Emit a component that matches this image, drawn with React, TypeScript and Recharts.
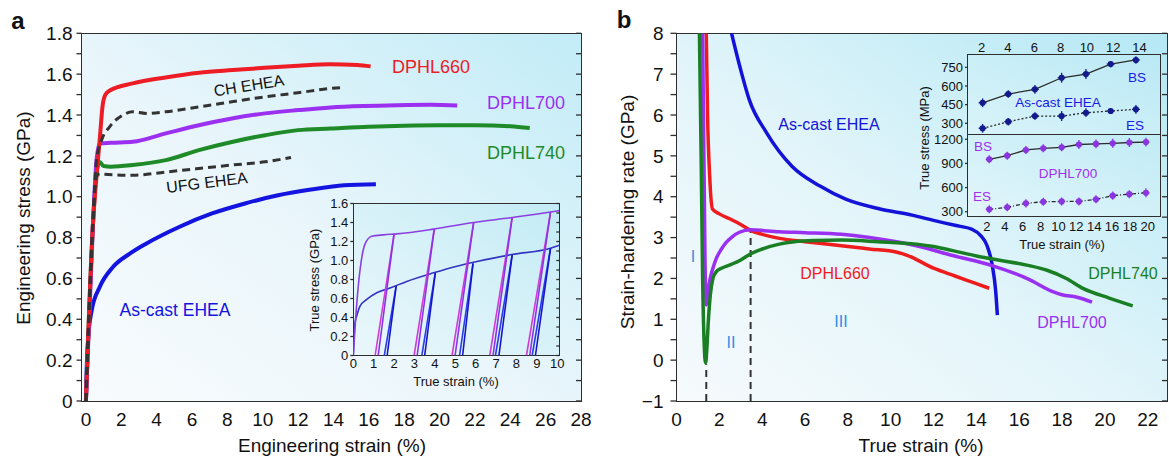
import React from 'react';
import { LineChart, Line, XAxis, YAxis, ScatterChart, Scatter, ErrorBar } from 'recharts';

const FONT = '"Liberation Sans", Arial, Helvetica, sans-serif';
const INK = '#111';
const AX = '#2e2e2e';

// ---------- panel a: engineering stress (GPa) vs engineering strain (%) ----------
const dphl660A = [
  { x: 0, y: 0 }, { x: 0.4, y: 0.87 }, { x: 0.6, y: 1.1 }, { x: 0.78, y: 1.28 }, { x: 0.95, y: 1.45 },
  { x: 1.1, y: 1.5 }, { x: 1.35, y: 1.52 }, { x: 2.65, y: 1.555 }, { x: 4.5, y: 1.584 }, { x: 6.4, y: 1.607 },
  { x: 8.3, y: 1.62 }, { x: 10.1, y: 1.631 }, { x: 12, y: 1.641 }, { x: 13.8, y: 1.648 }, { x: 15.35, y: 1.645 },
  { x: 16.1, y: 1.638 },
];
const chEheaA = [
  { x: 0, y: 0 }, { x: 0.4, y: 0.88 }, { x: 0.6, y: 1.18 }, { x: 0.9, y: 1.28 }, { x: 1.34, y: 1.342 },
  { x: 2.09, y: 1.4 }, { x: 2.65, y: 1.416 }, { x: 3.4, y: 1.408 }, { x: 4.52, y: 1.416 }, { x: 6.39, y: 1.44 },
  { x: 8.25, y: 1.465 }, { x: 10.13, y: 1.489 }, { x: 12, y: 1.509 }, { x: 13.84, y: 1.53 }, { x: 14.65, y: 1.535 },
];
const ufgEheaA = [
  { x: 0, y: 0 }, { x: 0.4, y: 0.88 }, { x: 0.6, y: 1.1 }, { x: 0.8, y: 1.113 }, { x: 1.0, y: 1.11 },
  { x: 2.65, y: 1.105 }, { x: 4.52, y: 1.121 }, { x: 6.39, y: 1.138 }, { x: 8.25, y: 1.155 }, { x: 10.13, y: 1.171 },
  { x: 11.6, y: 1.192 },
];
const dphl700A = [
  { x: 0, y: 0 }, { x: 0.4, y: 0.87 }, { x: 0.6, y: 1.18 }, { x: 0.78, y: 1.26 }, { x: 1.41, y: 1.264 },
  { x: 2.65, y: 1.269 }, { x: 4.52, y: 1.31 }, { x: 6.39, y: 1.35 }, { x: 8.25, y: 1.383 }, { x: 10.13, y: 1.408 },
  { x: 12, y: 1.424 }, { x: 13.84, y: 1.437 }, { x: 15.7, y: 1.444 }, { x: 17.6, y: 1.448 }, { x: 19.5, y: 1.45 },
  { x: 21, y: 1.447 },
];
const dphl740A = [
  { x: 0, y: 0 }, { x: 0.4, y: 0.87 }, { x: 0.6, y: 1.12 }, { x: 0.78, y: 1.17 }, { x: 1.0, y: 1.15 },
  { x: 1.41, y: 1.147 }, { x: 2.65, y: 1.155 }, { x: 4.52, y: 1.179 }, { x: 6.39, y: 1.228 }, { x: 8.25, y: 1.268 },
  { x: 10.13, y: 1.301 }, { x: 12, y: 1.326 }, { x: 13.84, y: 1.334 }, { x: 16, y: 1.343 }, { x: 18, y: 1.348 },
  { x: 20, y: 1.35 }, { x: 22, y: 1.35 }, { x: 24, y: 1.345 }, { x: 25.1, y: 1.336 },
];
const asCastA = [
  { x: 0, y: 0 }, { x: 0.04, y: 0.15 }, { x: 0.13, y: 0.31 }, { x: 0.32, y: 0.44 }, { x: 0.78, y: 0.558 },
  { x: 1.53, y: 0.656 }, { x: 2.46, y: 0.72 }, { x: 3.4, y: 0.77 }, { x: 5.27, y: 0.852 }, { x: 7.13, y: 0.918 },
  { x: 9, y: 0.967 }, { x: 10.87, y: 1.007 }, { x: 12.73, y: 1.035 }, { x: 14.6, y: 1.056 }, { x: 16.4, y: 1.061 },
];
const aXTicks = [0, 1, 2, 3, 4, 5, 6, 7, 8, 9, 10, 11, 12, 13, 14, 15, 16, 17, 18, 19, 20, 21, 22, 23, 24, 25, 26, 27, 28];
const aXLabels = [0, 2, 4, 6, 8, 10, 12, 14, 16, 18, 20, 22, 24, 26, 28];
const aYTicks = [0, 0.1, 0.2, 0.3, 0.4, 0.5, 0.6, 0.7, 0.8, 0.9, 1.0, 1.1, 1.2, 1.3, 1.4, 1.5, 1.6, 1.7, 1.8];
const aYLabels = [0, 0.2, 0.4, 0.6, 0.8, 1.0, 1.2, 1.4, 1.6, 1.8];

// ---------- panel a inset: loading-unloading true stress-strain ----------
const dphl700Env = [
  { x: 0, y: 0 }, { x: 0.16, y: 0.52 }, { x: 0.33, y: 0.9 }, { x: 0.57, y: 1.17 }, { x: 0.9, y: 1.255 },
  { x: 1.48, y: 1.27 }, { x: 2.13, y: 1.28 }, { x: 3.93, y: 1.33 }, { x: 5.9, y: 1.4 }, { x: 7.7, y: 1.45 },
  { x: 9.67, y: 1.51 }, { x: 10.1, y: 1.525 },
];
const asCastEnv = [
  { x: 0, y: 0 }, { x: 0.08, y: 0.34 }, { x: 0.16, y: 0.41 }, { x: 0.33, y: 0.52 }, { x: 0.66, y: 0.59 },
  { x: 1.15, y: 0.66 }, { x: 1.8, y: 0.71 }, { x: 2.62, y: 0.78 }, { x: 3.93, y: 0.87 }, { x: 5.08, y: 0.94 },
  { x: 6.07, y: 0.99 }, { x: 7.7, y: 1.06 }, { x: 9.67, y: 1.13 }, { x: 10.1, y: 1.16 },
];
const purpleLoops = [
  { peak: 2.0, top: 1.28, unload: 1.07, reload: 1.22 },
  { peak: 3.97, top: 1.33, unload: 2.98, reload: 3.13 },
  { peak: 5.9, top: 1.4, unload: 4.84, reload: 4.99 },
  { peak: 7.79, top: 1.455, unload: 6.69, reload: 6.85 },
  { peak: 9.67, top: 1.51, unload: 8.49, reload: 8.65 },
];
const blueLoops = [
  { peak: 2.1, top: 0.73, unload: 1.52, reload: 1.66 },
  { peak: 4.02, top: 0.87, unload: 3.36, reload: 3.5 },
  { peak: 5.87, top: 0.97, unload: 5.21, reload: 5.36 },
  { peak: 7.79, top: 1.06, unload: 6.97, reload: 7.14 },
  { peak: 9.67, top: 1.13, unload: 8.77, reload: 8.93 },
];
const iXTicks = [0, 0.5, 1, 1.5, 2, 2.5, 3, 3.5, 4, 4.5, 5, 5.5, 6, 6.5, 7, 7.5, 8, 8.5, 9, 9.5, 10];
const iXLabels = [0, 1, 2, 3, 4, 5, 6, 7, 8, 9, 10];
const iYTicks = [0, 0.1, 0.2, 0.3, 0.4, 0.5, 0.6, 0.7, 0.8, 0.9, 1.0, 1.1, 1.2, 1.3, 1.4, 1.5, 1.6];
const iYLabels = [0, 0.2, 0.4, 0.6, 0.8, 1.0, 1.2, 1.4, 1.6];

// ---------- panel b: strain-hardening rate (GPa) vs true strain (%) ----------
const asCastB = [
  { x: 2.57, y: 8 }, { x: 3.0, y: 7.1 }, { x: 3.4, y: 6.37 }, { x: 4.2, y: 5.57 }, { x: 5.4, y: 4.74 },
  { x: 6.7, y: 4.26 }, { x: 7.9, y: 3.94 }, { x: 9.5, y: 3.7 }, { x: 11, y: 3.55 }, { x: 12, y: 3.42 },
  { x: 13, y: 3.3 }, { x: 13.8, y: 3.2 }, { x: 14.2, y: 3.05 }, { x: 14.5, y: 2.8 }, { x: 14.75, y: 2.3 },
  { x: 14.9, y: 1.7 }, { x: 14.98, y: 1.1 },
];
const dphl660B = [
  { x: 1.39, y: 8 }, { x: 1.45, y: 6 }, { x: 1.55, y: 4.5 }, { x: 1.68, y: 3.7 }, { x: 2.0, y: 3.58 },
  { x: 2.48, y: 3.46 }, { x: 3.0, y: 3.32 }, { x: 3.41, y: 3.19 }, { x: 4.0, y: 3.08 }, { x: 4.81, y: 2.98 },
  { x: 6, y: 2.9 }, { x: 7.7, y: 2.8 }, { x: 9, y: 2.72 }, { x: 10.3, y: 2.64 }, { x: 10.8, y: 2.56 },
  { x: 12, y: 2.25 }, { x: 13, y: 2.06 }, { x: 13.8, y: 1.91 }, { x: 14.6, y: 1.76 },
];
const dphl740B = [
  { x: 1.07, y: 8 }, { x: 1.15, y: 5 }, { x: 1.22, y: 2 }, { x: 1.3, y: 0.3 }, { x: 1.36, y: -0.07 },
  { x: 1.42, y: 0.3 }, { x: 1.48, y: 0.9 }, { x: 1.58, y: 1.6 }, { x: 1.7, y: 2.0 }, { x: 1.85, y: 2.16 },
  { x: 2.1, y: 2.25 }, { x: 2.5, y: 2.33 }, { x: 3.0, y: 2.45 }, { x: 3.45, y: 2.6 }, { x: 4.0, y: 2.72 },
  { x: 4.8, y: 2.84 }, { x: 5.5, y: 2.9 }, { x: 6.5, y: 2.93 }, { x: 7.7, y: 2.94 }, { x: 9.4, y: 2.9 },
  { x: 11.2, y: 2.84 }, { x: 12, y: 2.78 }, { x: 12.9, y: 2.68 }, { x: 14, y: 2.55 }, { x: 14.7, y: 2.48 },
  { x: 16.4, y: 2.32 }, { x: 17.3, y: 2.2 }, { x: 18.2, y: 2.0 }, { x: 19, y: 1.75 }, { x: 20.2, y: 1.52 },
  { x: 21.3, y: 1.33 },
];
const dphl700B = [
  { x: 1.22, y: 8 }, { x: 1.28, y: 5 }, { x: 1.33, y: 2.5 }, { x: 1.39, y: 1.35 }, { x: 1.45, y: 1.6 },
  { x: 1.54, y: 1.92 }, { x: 1.7, y: 2.25 }, { x: 1.85, y: 2.48 }, { x: 2.1, y: 2.72 }, { x: 2.32, y: 2.88 },
  { x: 2.6, y: 3.02 }, { x: 2.94, y: 3.13 }, { x: 3.46, y: 3.19 }, { x: 4.8, y: 3.14 }, { x: 6, y: 3.12 },
  { x: 7.7, y: 3.08 }, { x: 9.4, y: 2.97 }, { x: 11.2, y: 2.8 }, { x: 12.9, y: 2.56 }, { x: 14.7, y: 2.32 },
  { x: 16.4, y: 1.99 }, { x: 17.6, y: 1.67 }, { x: 18, y: 1.6 }, { x: 18.7, y: 1.54 }, { x: 19.4, y: 1.42 },
];
const stageLine1 = [{ x: 1.39, y: -1 }, { x: 1.39, y: -0.1 }];
const stageLine2 = [{ x: 3.46, y: -1 }, { x: 3.46, y: 3.19 }];
const bXTicks = [0, 1, 2, 3, 4, 5, 6, 7, 8, 9, 10, 11, 12, 13, 14, 15, 16, 17, 18, 19, 20, 21, 22];
const bXLabels = [0, 2, 4, 6, 8, 10, 12, 14, 16, 18, 20, 22];
const bYTicks = [-1, -0.5, 0, 0.5, 1, 1.5, 2, 2.5, 3, 3.5, 4, 4.5, 5, 5.5, 6, 6.5, 7, 7.5, 8];
const bYLabels = [-1, 0, 1, 2, 3, 4, 5, 6, 7, 8];

// ---------- panel b inset: back stress (BS) and effective stress (ES), MPa ----------
const asCastBS = [
  { x: 2.07, y: 465, ex: 0.3, ey: 35 }, { x: 4.02, y: 535, ex: 0.3, ey: 30 }, { x: 6.05, y: 573, ex: 0.3, ey: 35 },
  { x: 8.08, y: 666, ex: 0.3, ey: 40 }, { x: 9.93, y: 696, ex: 0.3, ey: 40 }, { x: 11.81, y: 776, ex: 0.3, ey: 25 },
  { x: 13.73, y: 809, ex: 0.3, ey: 30 },
];
const asCastES = [
  { x: 2.07, y: 260, ex: 0.3, ey: 35 }, { x: 4.02, y: 313, ex: 0.3, ey: 30 }, { x: 6.05, y: 358, ex: 0.3, ey: 30 },
  { x: 8.08, y: 358, ex: 0.3, ey: 40 }, { x: 9.93, y: 385, ex: 0.3, ey: 35 }, { x: 11.81, y: 399, ex: 0.3, ey: 25 },
  { x: 13.73, y: 412, ex: 0.3, ey: 35 },
];
const dphl700BS = [
  { x: 2.26, y: 951, ex: 0.4, ey: 50 }, { x: 4.27, y: 996, ex: 0.4, ey: 50 }, { x: 6.36, y: 1067, ex: 0.4, ey: 50 },
  { x: 8.3, y: 1088, ex: 0.4, ey: 50 }, { x: 10.36, y: 1100, ex: 0.4, ey: 50 }, { x: 12.29, y: 1135, ex: 0.4, ey: 55 },
  { x: 14.2, y: 1142, ex: 0.4, ey: 55 }, { x: 16.07, y: 1150, ex: 0.4, ey: 55 }, { x: 17.93, y: 1160, ex: 0.4, ey: 55 },
  { x: 19.79, y: 1165, ex: 0.4, ey: 55 },
];
const dphl700ES = [
  { x: 2.26, y: 330, ex: 0.4, ey: 50 }, { x: 4.27, y: 355, ex: 0.4, ey: 50 }, { x: 6.36, y: 404, ex: 0.4, ey: 50 },
  { x: 8.3, y: 424, ex: 0.4, ey: 50 }, { x: 10.36, y: 428, ex: 0.4, ey: 50 }, { x: 12.29, y: 428, ex: 0.4, ey: 50 },
  { x: 14.2, y: 454, ex: 0.4, ey: 50 }, { x: 16.07, y: 500, ex: 0.4, ey: 50 }, { x: 17.93, y: 518, ex: 0.4, ey: 50 },
  { x: 19.79, y: 536, ex: 0.4, ey: 55 },
];
const uXLabels = [2, 4, 6, 8, 10, 12, 14];
const uYLabels = [300, 450, 600, 750];
const lXLabels = [2, 4, 6, 8, 10, 12, 14, 16, 18, 20];
const lYLabels = [300, 600, 900, 1200];

const onlyLabels = (labels: number[], f: (v: number) => string) => (v: number) =>
  labels.some((l) => Math.abs(l - v) < 1e-6) ? f(v) : '';
const noLabel = () => '';
const tickStroke = { stroke: AX, strokeWidth: 1.3 };

function Frame({ l, t, r, b, bg }: { l: number; t: number; r: number; b: number; bg: string }) {
  return (
    <div
      style={{
        position: 'absolute', left: l - 0.75, top: t - 0.75, width: r - l + 1.5, height: b - t + 1.5,
        boxSizing: 'border-box', border: `1.5px solid ${AX}`, background: bg,
      }}
    />
  );
}

function Txt({ x, y, children, size = 18, color = INK, rot = 0, weight = 400 }: any) {
  return (
    <div
      style={{
        position: 'absolute', left: x, top: y, transform: `translate(-50%, -50%) rotate(${rot}deg)`,
        fontSize: size, color, fontWeight: weight, whiteSpace: 'nowrap', lineHeight: 1, fontFamily: FONT,
      }}
    >
      {children}
    </div>
  );
}

function loopSegments(loops: typeof purpleLoops) {
  return loops.map((o) => ({
    unload: [{ x: o.peak, y: o.top }, { x: o.unload, y: 0 }],
    reload: [{ x: o.reload, y: 0 }, { x: o.peak, y: o.top }],
  }));
}

const dot = (color: string) => (p: any) => <circle cx={p.cx} cy={p.cy} r={3.1} fill={color} />;

export default function App() {
  const aDom: [number, number] = [-0.25, 28];
  const bDom: [number, number] = [0, 22.9];
  const iDom: [number, number] = [0, 10.1];
  const uDom: [number, number] = [0.96, 15.56];
  const lDom: [number, number] = [-0.12, 21.36];
  const pLoops = loopSegments(purpleLoops);
  const bLoops = loopSegments(blueLoops);

  return (
    <div style={{ position: 'absolute', left: 0, top: 0, width: 1169, height: 460, background: '#fff', overflow: 'hidden', fontFamily: FONT }}>
      {/* ---------- panel a ---------- */}
      <Frame l={81.5} t={33.3} r={581} b={401} bg="linear-gradient(to top right, #f8fbfd 0%, #eaf6fb 45%, #c2ecf7 100%)" />
      <div style={{ position: 'absolute', left: 0, top: 0 }}>
        <LineChart width={600} height={460} margin={{ top: 33.3, right: 19, left: 21.5, bottom: 29 }}>
          <XAxis xAxisId="b" type="number" dataKey="x" domain={aDom} allowDataOverflow ticks={aXLabels} interval={0}
            height={30} tickLine={false} axisLine={false} tickSize={6} tickMargin={6} tick={{ fill: INK, fontSize: 19 }} />
          <XAxis xAxisId="bm" type="number" domain={aDom} allowDataOverflow ticks={aXTicks} interval={0} mirror
            axisLine={false} tickSize={5} tickLine={tickStroke} tickFormatter={noLabel} />
          <XAxis xAxisId="t" orientation="top" type="number" domain={aDom} allowDataOverflow ticks={aXTicks} interval={0} mirror
            axisLine={false} tickSize={5} tickLine={tickStroke} tickFormatter={noLabel} />
          <YAxis yAxisId="l" type="number" domain={[0, 1.8]} allowDataOverflow ticks={aYTicks} interval={0} width={60}
            axisLine={false} tickSize={5} tickMargin={4} tickLine={tickStroke} tick={{ fill: INK, fontSize: 19 }}
            tickFormatter={onlyLabels(aYLabels, (v) => (v === 0 ? '0' : v.toFixed(1)))} />
          <YAxis yAxisId="r" orientation="right" type="number" domain={[0, 1.8]} allowDataOverflow ticks={aYTicks} interval={0} mirror
            axisLine={false} tickSize={5} tickLine={tickStroke} tickFormatter={noLabel} />
          <Line xAxisId="b" yAxisId="l" data={asCastA} dataKey="y" type="monotone" stroke="#1414e0" strokeWidth={4} dot={false} isAnimationActive={false} />
          <Line xAxisId="b" yAxisId="l" data={dphl740A} dataKey="y" type="monotone" stroke="#1e8a28" strokeWidth={4} dot={false} isAnimationActive={false} />
          <Line xAxisId="b" yAxisId="l" data={dphl700A} dataKey="y" type="monotone" stroke="#9b30f0" strokeWidth={4} dot={false} isAnimationActive={false} />
          <Line xAxisId="b" yAxisId="l" data={dphl660A} dataKey="y" type="monotone" stroke="#ee1c25" strokeWidth={4} dot={false} isAnimationActive={false} />
          <Line xAxisId="b" yAxisId="l" data={ufgEheaA} dataKey="y" type="monotone" stroke="#333" strokeWidth={3} strokeDasharray="8 5" dot={false} isAnimationActive={false} />
          <Line xAxisId="b" yAxisId="l" data={chEheaA} dataKey="y" type="monotone" stroke="#333" strokeWidth={3} strokeDasharray="8 5" dot={false} isAnimationActive={false} />
        </LineChart>
      </div>

      {/* panel a inset */}
      <Frame l={353.3} t={203.5} r={559.3} b={355.5} bg="linear-gradient(to top right, #eaf7fb 0%, #d6f1f8 55%, #c2ebf5 100%)" />
      <div style={{ position: 'absolute', left: 290, top: 190 }}>
        <LineChart width={280} height={200} margin={{ top: 13.5, right: 10.7, left: 33.3, bottom: 14.5 }}>
          <XAxis xAxisId="b" type="number" dataKey="x" domain={iDom} allowDataOverflow ticks={iXLabels} interval={0}
            height={20} tickLine={false} axisLine={false} tickSize={3} tickMargin={0} tick={{ fill: INK, fontSize: 13 }} />
          <XAxis xAxisId="bm" type="number" domain={iDom} allowDataOverflow ticks={iXTicks} interval={0} mirror
            axisLine={false} tickSize={3} tickLine={tickStroke} tickFormatter={noLabel} />
          <XAxis xAxisId="t" orientation="top" type="number" domain={iDom} allowDataOverflow ticks={iXTicks} interval={0} mirror
            axisLine={false} tickSize={3} tickLine={tickStroke} tickFormatter={noLabel} />
          <YAxis yAxisId="l" type="number" domain={[0, 1.6]} allowDataOverflow ticks={iYLabels} interval={0} width={30}
            axisLine={false} tickSize={3} tickMargin={2} tickLine={tickStroke} tick={{ fill: INK, fontSize: 13 }}
            tickFormatter={(v: number) => (v === 0 ? '0' : v.toFixed(1))} />
          <YAxis yAxisId="r" orientation="right" type="number" domain={[0, 1.6]} allowDataOverflow ticks={iYTicks} interval={0} mirror
            axisLine={false} tickSize={3} tickLine={tickStroke} tickFormatter={noLabel} />
          <Line xAxisId="b" yAxisId="l" data={asCastEnv} dataKey="y" type="monotone" stroke="#3434c4" strokeWidth={1.6} dot={false} isAnimationActive={false} />
          {bLoops.map((s, i) => (
            <Line key={`bu${i}`} xAxisId="b" yAxisId="l" data={s.unload} dataKey="y" type="linear" stroke="#2a3ee8" strokeWidth={1.6} dot={false} isAnimationActive={false} />
          ))}
          {bLoops.map((s, i) => (
            <Line key={`br${i}`} xAxisId="b" yAxisId="l" data={s.reload} dataKey="y" type="linear" stroke="#1616c8" strokeWidth={1.6} dot={false} isAnimationActive={false} />
          ))}
          <Line xAxisId="b" yAxisId="l" data={dphl700Env} dataKey="y" type="monotone" stroke="#8a40e0" strokeWidth={1.6} dot={false} isAnimationActive={false} />
          {pLoops.map((s, i) => (
            <Line key={`pu${i}`} xAxisId="b" yAxisId="l" data={s.unload} dataKey="y" type="linear" stroke="#d23cd2" strokeWidth={1.6} dot={false} isAnimationActive={false} />
          ))}
          {pLoops.map((s, i) => (
            <Line key={`pr${i}`} xAxisId="b" yAxisId="l" data={s.reload} dataKey="y" type="linear" stroke="#8a34e4" strokeWidth={1.6} dot={false} isAnimationActive={false} />
          ))}
        </LineChart>
      </div>

      {/* ---------- panel b ---------- */}
      <Frame l={676.5} t={33.3} r={1167} b={401} bg="linear-gradient(to top right, #f6fafc 0%, #e3f5fa 45%, #b4e8f5 100%)" />
      <div style={{ position: 'absolute', left: 600, top: 0 }}>
        <LineChart width={569} height={460} margin={{ top: 33.3, right: 2, left: 26.5, bottom: 29 }}>
          <XAxis xAxisId="b" type="number" dataKey="x" domain={bDom} allowDataOverflow ticks={bXLabels} interval={0}
            height={30} tickLine={false} axisLine={false} tickSize={6} tickMargin={6} tick={{ fill: INK, fontSize: 19 }} />
          <XAxis xAxisId="bm" type="number" domain={bDom} allowDataOverflow ticks={bXTicks} interval={0} mirror
            axisLine={false} tickSize={5} tickLine={tickStroke} tickFormatter={noLabel} />
          <XAxis xAxisId="t" orientation="top" type="number" domain={bDom} allowDataOverflow ticks={bXTicks} interval={0} mirror
            axisLine={false} tickSize={5} tickLine={tickStroke} tickFormatter={noLabel} />
          <YAxis yAxisId="l" type="number" domain={[-1, 8]} allowDataOverflow ticks={bYTicks} interval={0} width={50}
            axisLine={false} tickSize={6} tickMargin={7} tickLine={tickStroke} tick={{ fill: INK, fontSize: 19 }}
            tickFormatter={onlyLabels(bYLabels, (v) => (v < 0 ? `\u2212${Math.abs(v)}` : String(v)))} />
          <YAxis yAxisId="r" orientation="right" type="number" domain={[-1, 8]} allowDataOverflow ticks={bYTicks} interval={0} mirror
            axisLine={false} tickSize={5} tickLine={tickStroke} tickFormatter={noLabel} />
          <Line xAxisId="b" yAxisId="l" data={stageLine1} dataKey="y" type="linear" stroke="#333" strokeWidth={2} strokeDasharray="7 5" dot={false} isAnimationActive={false} />
          <Line xAxisId="b" yAxisId="l" data={stageLine2} dataKey="y" type="linear" stroke="#333" strokeWidth={2} strokeDasharray="7 5" dot={false} isAnimationActive={false} />
          <Line xAxisId="b" yAxisId="l" data={asCastB} dataKey="y" type="monotone" stroke="#1212d8" strokeWidth={3.5} dot={false} isAnimationActive={false} />
          <Line xAxisId="b" yAxisId="l" data={dphl660B} dataKey="y" type="monotone" stroke="#ee1c1c" strokeWidth={3.5} dot={false} isAnimationActive={false} />
          <Line xAxisId="b" yAxisId="l" data={dphl700B} dataKey="y" type="monotone" stroke="#9a30f0" strokeWidth={3.5} dot={false} isAnimationActive={false} />
          <Line xAxisId="b" yAxisId="l" data={dphl740B} dataKey="y" type="monotone" stroke="#1a7f24" strokeWidth={3.5} dot={false} isAnimationActive={false} />
        </LineChart>
      </div>

      {/* panel b inset backgrounds */}
      <Frame l={968} t={55} r={1160} b={135} bg="linear-gradient(to top right, #d9f3f9 0%, #c9eef7 55%, #b9e8f4 100%)" />
      <Frame l={968} t={135} r={1160} b={216} bg="linear-gradient(to top right, #e2f5fa 0%, #d0f0f8 55%, #c0ebf5 100%)" />

      {/* panel b inset, upper: as-cast EHEA */}
      <div style={{ position: 'absolute', left: 900, top: 30 }}>
        <ScatterChart width={269} height={106} margin={{ top: 0, right: 9, left: 28, bottom: 1 }}>
          <XAxis xAxisId="t" orientation="top" type="number" dataKey="x" domain={uDom} allowDataOverflow ticks={uXLabels} interval={0}
            height={25} tickLine={false} axisLine={false} tickSize={3} tickMargin={0} tick={{ fill: INK, fontSize: 13 }} />
          <XAxis xAxisId="tm" orientation="top" type="number" domain={uDom} allowDataOverflow ticks={uXLabels} interval={0} mirror
            axisLine={false} tickSize={3} tickLine={tickStroke} tickFormatter={noLabel} />
          <YAxis yAxisId="l" type="number" dataKey="y" domain={[206, 849]} allowDataOverflow ticks={uYLabels} interval={0} width={40}
            axisLine={false} tickSize={3} tickMargin={2} tickLine={tickStroke} tick={{ fill: INK, fontSize: 13 }} />
          <Scatter xAxisId="t" yAxisId="l" data={asCastBS} fill="#131b8c" shape={dot('#131b8c')} line={{ stroke: '#2a2a2a', strokeWidth: 1.3 }} isAnimationActive={false}>
            <ErrorBar dataKey="ey" direction="y" width={0} stroke="#131b8c" strokeWidth={1.3} />
            <ErrorBar dataKey="ex" direction="x" width={0} stroke="#131b8c" strokeWidth={1.3} />
          </Scatter>
          <Scatter xAxisId="t" yAxisId="l" data={asCastES} fill="#131b8c" shape={dot('#131b8c')} line={{ stroke: '#2a2a2a', strokeWidth: 1.3, strokeDasharray: '2 2' }} isAnimationActive={false}>
            <ErrorBar dataKey="ey" direction="y" width={0} stroke="#131b8c" strokeWidth={1.3} />
            <ErrorBar dataKey="ex" direction="x" width={0} stroke="#131b8c" strokeWidth={1.3} />
          </Scatter>
        </ScatterChart>
      </div>

      {/* panel b inset, lower: DPHL700 */}
      <div style={{ position: 'absolute', left: 900, top: 125 }}>
        <ScatterChart width={269} height={120} margin={{ top: 10, right: 9, left: 28, bottom: 9 }}>
          <XAxis xAxisId="b" type="number" dataKey="x" domain={lDom} allowDataOverflow ticks={lXLabels} interval={0}
            height={20} tickLine={false} axisLine={false} tickSize={3} tickMargin={3} tick={{ fill: INK, fontSize: 13 }} />
          <XAxis xAxisId="bm" type="number" domain={lDom} allowDataOverflow ticks={lXLabels} interval={0} mirror
            axisLine={false} tickSize={3} tickLine={tickStroke} tickFormatter={noLabel} />
          <YAxis yAxisId="l" type="number" dataKey="y" domain={[247, 1253]} allowDataOverflow ticks={lYLabels} interval={0} width={40}
            axisLine={false} tickSize={3} tickMargin={2} tickLine={tickStroke} tick={{ fill: INK, fontSize: 13 }} />
          <Scatter xAxisId="b" yAxisId="l" data={dphl700BS} fill="#8a35e0" shape={dot('#8a35e0')} line={{ stroke: '#2a2a2a', strokeWidth: 1.3 }} isAnimationActive={false}>
            <ErrorBar dataKey="ey" direction="y" width={0} stroke="#8a35e0" strokeWidth={1.3} />
            <ErrorBar dataKey="ex" direction="x" width={0} stroke="#8a35e0" strokeWidth={1.3} />
          </Scatter>
          <Scatter xAxisId="b" yAxisId="l" data={dphl700ES} fill="#8a35e0" shape={dot('#8a35e0')} line={{ stroke: '#2a2a2a', strokeWidth: 1.3, strokeDasharray: '4 2 1 2' }} isAnimationActive={false}>
            <ErrorBar dataKey="ey" direction="y" width={0} stroke="#8a35e0" strokeWidth={1.3} />
            <ErrorBar dataKey="ex" direction="x" width={0} stroke="#8a35e0" strokeWidth={1.3} />
          </Scatter>
        </ScatterChart>
      </div>

      {/* ---------- text ---------- */}
      <Txt x={18} y={21} size={24} weight={700}>a</Txt>
      <Txt x={624} y={20} size={24} weight={700}>b</Txt>

      <Txt x={23} y={218} size={19} rot={-90}>Engineering stress (GPa)</Txt>
      <Txt x={332} y={445} size={19}>Engineering strain (%)</Txt>
      <Txt x={431} y={67} size={18} color="#ee1c25">DPHL660</Txt>
      <Txt x={249} y={86} size={16} rot={-9}>CH EHEA</Txt>
      <Txt x={526} y={103} size={18} color="#9b30f0">DPHL700</Txt>
      <Txt x={526} y={153} size={18} color="#1e8a28">DPHL740</Txt>
      <Txt x={207} y={183} size={16} rot={-7}>UFG EHEA</Txt>
      <Txt x={175} y={311} size={17.5} color="#1414e0">As-cast EHEA</Txt>
      <Txt x={314} y={280} size={13} rot={-90}>True stress (GPa)</Txt>
      <Txt x={456} y={381} size={13}>True strain (%)</Txt>

      <Txt x={627} y={212} size={19} rot={-90}>Strain-hardening rate (GPa)</Txt>
      <Txt x={921} y={445} size={19}>True strain (%)</Txt>
      <Txt x={829} y={125} size={16} color="#1212d8">As-cast EHEA</Txt>
      <Txt x={835} y={274} size={16} color="#ee1c1c">DPHL660</Txt>
      <Txt x={1123} y={274} size={16} color="#1a7f24">DPHL740</Txt>
      <Txt x={1072} y={323} size={16} color="#9a30f0">DPHL700</Txt>
      <Txt x={693} y={257} size={16} color="#2b8fe6">I</Txt>
      <Txt x={731} y={343} size={16} color="#2b8fe6">II</Txt>
      <Txt x={841} y={322} size={16} color="#2b8fe6">III</Txt>

      <Txt x={924} y={138} size={13} rot={-90}>True stress (MPa)</Txt>
      <Txt x={1062} y={244} size={13}>True strain (%)</Txt>
      <Txt x={1137} y={78} size={13.5} color="#1a1ae8">BS</Txt>
      <Txt x={1058} y={103} size={13.5} color="#1a1ae8">As-cast EHEA</Txt>
      <Txt x={1135} y={126} size={13.5} color="#1a1ae8">ES</Txt>
      <Txt x={983} y={147} size={13.5} color="#a030f0">BS</Txt>
      <Txt x={1068} y={174} size={13.5} color="#a030f0">DPHL700</Txt>
      <Txt x={982} y={197} size={13.5} color="#a030f0">ES</Txt>
    </div>
  );
}
